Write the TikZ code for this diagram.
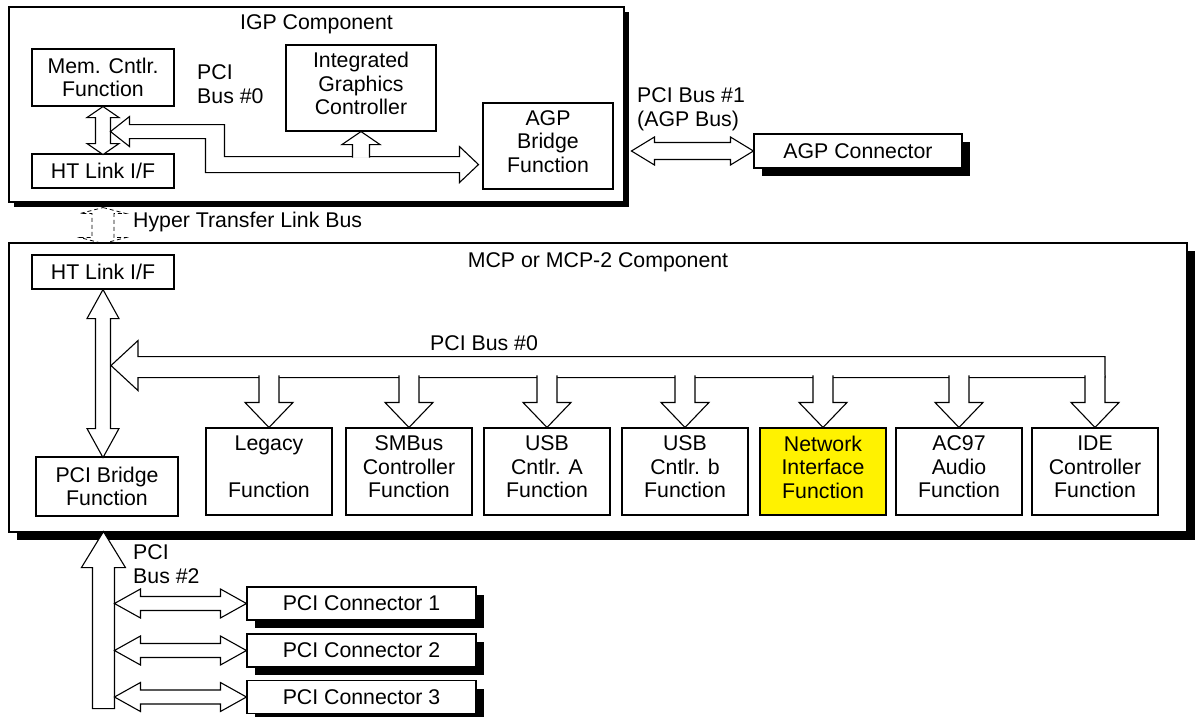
\documentclass[tikz,border=0pt]{standalone}
\usepackage{fontspec}
\setmainfont{Liberation Sans}
\usetikzlibrary{calc,shadows}
\newcommand\diagfont{\fontsize{21.3}{23.5}\selectfont}
% extra depth on the last line so that three-line texts sit a little higher
\newcommand\liftup{\rule[-9pt]{0pt}{9pt}}
% vertical double arrow: style, top tip, length, head length, half head, half shaft
\newcommand\vdbl[6]{\draw[#1] (#2) -- ++(#5,#4) -- ++(#6-#5,0) -- ++(0,#3-2*#4) -- ++(#5-#6,0) -- ++(-#5,#4) -- ++(-#5,-#4) -- ++(#5-#6,0) -- ++(0,2*#4-#3) -- ++(#6-#5,0) -- cycle;}
% horizontal double arrow: style, left tip, length, head length, half head, half shaft
\newcommand\hdbl[6]{\draw[#1] (#2) -- ++(#4,-#5) -- ++(0,#5-#6) -- ++(#3-2*#4,0) -- ++(0,#6-#5) -- ++(#4,#5) -- ++(-#4,#5) -- ++(0,#6-#5) -- ++(2*#4-#3,0) -- ++(0,#5-#6) -- cycle;}
% downward branch of the MCP bus into a function box
\newcommand\busbranch[1]{\filldraw[busline] (#1.north) ++(-10,-52) -- ++(0,27) -- ++(-14,0) -- ++(24,25) -- ++(24,-25) -- ++(-14,0) -- ++(0,-27);}
\tikzset{
  box/.style={draw, fill=white, line width=1.1pt, inner sep=0pt, align=center, font=\diagfont},
  shad/.style={drop shadow={shadow xshift=#1, shadow yshift=-#1, opacity=1, fill=black}},
  busline/.style={draw, fill=white, line width=1.1pt, line join=miter},
  dashbus/.style={draw, line width=0.8pt, dash pattern=on 4pt off 3pt},
  lbl/.style={inner sep=0pt, font=\diagfont, align=left},
  fnbox/.style={box, minimum width=126pt, minimum height=87pt},
  connbox/.style={box, shad=8pt, minimum width=229pt, minimum height=33pt}
}
\begin{document}
\begin{tikzpicture}[x=1pt,y=-1pt]
\useasboundingbox (0,0) rectangle (1197,717);
\fill[white] (0,0) rectangle (1197,717);

% ---- IGP component ----
\node[box, shad=5pt, minimum width=615pt, minimum height=195pt] (igp) at (316.5,104.5) {};
\node[box, minimum width=142pt, minimum height=57pt] (mem) at (103,77.5) {Mem. Cntlr.\\Function};
\node[box, minimum width=142pt, minimum height=34pt] (htigp) at (103,171) {HT Link I/F};
\node[box, minimum width=150pt, minimum height=86pt] (igc) at (361,88) {Integrated\\Graphics\\Controller\liftup};
\node[box, minimum width=130pt, minimum height=86pt] (agpbr) at (548,146) {AGP\\Bridge\\Function\liftup};
\node[box, shad=8pt, minimum width=208pt, minimum height=34pt] (agpc) at (858,151) {AGP Connector};

% ---- MCP component ----
\node[box, shad=8pt, minimum width=1178pt, minimum height=289pt] (mcp) at (598,387.5) {};
\node[box, minimum width=142pt, minimum height=34pt] (htmcp) at (103,272) {HT Link I/F};
\node[box, minimum width=142pt, minimum height=59pt] (pcibr) at (107,486.5) {PCI Bridge\\Function};
\node[fnbox] (legacy) at (269,471.5) {Legacy\\\mbox{}\\Function\liftup};
\node[fnbox] (smbus) at (409,471.5) {SMBus\\Controller\\Function\liftup};
\node[fnbox] (usba) at (547,471.5) {USB\\Cntlr. A\\Function\liftup};
\node[fnbox] (usbb) at (685,471.5) {USB\\Cntlr. b\\Function\liftup};
\node[fnbox, fill=yellow] (net) at (823,471.5) {Network\\Interface\\Function\liftup};
\node[fnbox] (ac97) at (959,471.5) {AC97\\Audio\\Function\liftup};
\node[fnbox] (ide) at (1095,471.5) {IDE\\Controller\\Function\liftup};

% ---- PCI connectors ----
\node[connbox] (pc1) at (361.5,603.5) {PCI Connector 1};
\node[connbox] (pc2) at (361.5,650.5) {PCI Connector 2};
\node[connbox] (pc3) at (361.5,697) {PCI Connector 3};

% ---- IGP internal buses ----
\vdbl{busline}{mem.south}{48}{11}{16}{7.5}
\coordinate (igtip) at ($(mem.south)+(7.5,25)$);
\draw[busline] (igtip) -- ++(19,-15) -- ++(0,8) -- ++(95,0) -- ++(0,32) -- ++(235,0) -- ++(0,-10) -- ++(19,18) -- ++(-19,18) -- ++(0,-10) -- ++(-254,0) -- ++(0,-34) -- ++(-76,0) -- ++(0,8) -- cycle;
\filldraw[busline] (igc.south) ++(-8.5,26) -- ++(0,-13) -- ++(-10.5,0) -- ++(19,-13) -- ++(19,13) -- ++(-10.5,0) -- ++(0,13);

% ---- AGP bus ----
\coordinate (agpL) at ($(agpc.west)+(-122,0)$);
\hdbl{busline}{agpL}{122}{23}{14}{8.5}

% ---- Hyper Transfer link ----
\coordinate (hyT) at ($(htigp.south |- igp.south)+(0,5)$);
\vdbl{dashbus}{hyT}{36}{6}{23}{11}

% ---- MCP internal buses ----
\vdbl{busline}{htmcp.south}{168}{29}{16}{7.5}
\coordinate (mbtip) at ($(htmcp.south)+(8,76)$);
\draw[busline] (mbtip) -- ++(27,-25) -- ++(0,16) -- ++(967,0) -- ++(0,21) -- ++(-967,0) -- ++(0,13) -- cycle;
\foreach \b in {legacy,smbus,usba,usbb,net,ac97,ide} {\busbranch{\b}}

% ---- PCI bus #2 ----
\coordinate (b2tip) at ($(mcp.south west)+(95,-1)$);
\draw[busline] (b2tip) -- ++(22,36) -- ++(-11,0) -- ++(0,141) -- ++(-22,0) -- ++(0,-141) -- ++(-11,0) -- cycle;
\coordinate (c1L) at ($(pc1.west)+(-132,0)$);
\coordinate (c2L) at ($(pc2.west)+(-132,0)$);
\coordinate (c3L) at ($(pc3.west)+(-132,0)$);
\hdbl{busline}{c1L}{132}{26}{14.5}{7}
\hdbl{busline}{c2L}{132}{26}{14.5}{7}
\hdbl{busline}{c3L}{132}{26}{14.5}{7}

% ---- labels ----
\node[lbl, anchor=base] (igpt) at (316.5,30) {IGP Component};
\node[lbl, anchor=north west] (pci0a) at (197,64.7) {PCI\\Bus \#0};
\node[lbl, anchor=north west] (pci1) at (637,87.7) {PCI Bus \#1\\(AGP Bus)};
\node[lbl, anchor=base west] (hyl) at (133,227) {Hyper Transfer Link Bus};
\node[lbl, anchor=base] (mcpt) at (598,267) {MCP or MCP-2 Component};
\node[lbl, anchor=base west] (pci0b) at (430,350) {PCI Bus \#0};
\node[lbl, anchor=north west] (pci2) at (133,544.7) {PCI\\Bus \#2};
\end{tikzpicture}
\end{document}
